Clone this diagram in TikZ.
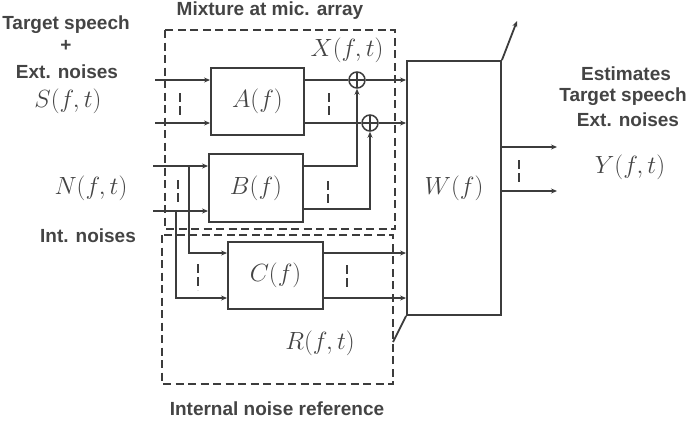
\documentclass[tikz,border=0pt]{standalone}
\usepackage{fontspec}
\setmainfont{Liberation Sans}
\usetikzlibrary{arrows.meta}
\definecolor{lc}{HTML}{3C3C3C}
\definecolor{tc}{HTML}{444444}
\begin{document}
\begin{tikzpicture}[x=1pt,y=-1pt,
  line/.style={draw=lc, line width=1.8pt},
  arr/.style={line, -{Stealth[length=6pt,width=5pt]}},
  blk/.style={draw=lc, line width=1.9pt, rectangle, inner sep=0pt, text=tc, font=\fontsize{29}{32}\selectfont},
  dbox/.style={draw=lc, line width=1.7pt, dash pattern=on 8pt off 4.5pt},
  dots/.style={draw=lc, line width=1.9pt, dash pattern=on 9pt off 4pt},
  lab/.style={text=tc, inner sep=0pt, font=\fontsize{19}{22}\selectfont\bfseries},
  mth/.style={text=tc, inner sep=0pt, font=\fontsize{29}{32}\selectfont},
  sumn/.style={draw=lc, line width=1.5pt, circle, minimum size=16pt, inner sep=0pt,
    path picture={\draw[lc, line width=1.3pt] (path picture bounding box.north) -- (path picture bounding box.south)
      (path picture bounding box.west) -- (path picture bounding box.east);}},
]
\useasboundingbox (0,0) rectangle (687,424);

% dashed group boxes
\draw[dbox] (165,30) rectangle (395,229);
\draw[dbox] (162,235) rectangle (393,384);

% blocks
\node[blk, minimum width=93pt, minimum height=67pt] (A) at (257.5,101.5) {$A(f)$};
\node[blk, minimum width=94pt, minimum height=68pt] (B) at (256,188) {$B(f)$};
\node[blk, minimum width=95pt, minimum height=67pt] (C) at (275.5,275.5) {$C(f)$};
\node[blk, minimum width=94pt, minimum height=254pt] (W) at (454,188) {$W(f)$};

% summing junctions
\node[sumn] (s1) at (357,80) {};
\node[sumn] (s2) at (370,123) {};

% input coordinates
\coordinate (ain1) at (155,80);
\coordinate (ain2) at (155,123);
\coordinate (bin1) at (153,166);
\coordinate (bin2) at (153,211);
\coordinate (j1) at (189,166);
\coordinate (j2) at (176,211);
\coordinate (yo1) at (557,147);
\coordinate (yo2) at (557,191);
\coordinate (wtop) at (517,21);
\coordinate (wbot) at (393,342);

% A inputs and outputs
\draw[arr] (ain1) -- (A.west |- ain1);
\draw[arr] (ain2) -- (A.west |- ain2);
\draw[line] (A.east |- s1) -- (s1.west);
\draw[line] (A.east |- s2) -- (s2.west);
\draw[arr] (s1.east) -- (W.west |- s1);
\draw[arr] (s2.east) -- (W.west |- s2);

% B inputs and outputs
\draw[arr] (bin1) -- (B.west |- bin1);
\draw[arr] (bin2) -- (B.west |- bin2);
\draw[arr] (B.east |- bin1) -| (s1.south);
\draw[arr] (B.east |- 0,209) -| (s2.south);

% branches to C
\draw[arr] (j1) |- (C.west |- 0,253);
\draw[arr] (j2) |- (C.west |- 0,298);
\draw[arr] (C.east |- 0,253) -- (W.west |- 0,253);
\draw[arr] (C.east |- 0,298) -- (W.west |- 0,298);

% W outputs
\draw[arr] (W.east |- yo1) -- (yo1);
\draw[arr] (W.east |- yo2) -- (yo2);
\draw[arr] (W.north east) -- (wtop);
\draw[line] (W.south west) -- (wbot);

% ellipsis marks
\draw[dots] (180,93) -- (180,115);
\draw[dots] (329,93) -- (329,115);
\draw[dots] (178,180) -- (178,203);
\draw[dots] (328,181) -- (328,204);
\draw[dots] (198,264) -- (198,290);
\draw[dots] (347,265) -- (347,290);
\draw[dots] (519,160) -- (519,183);

% labels
\node[lab] (t1) at (66,25) {Target speech};
\node[lab] (t2) at (66,46) {+};
\node[lab] (t3) at (67,72) {Ext. noises};
\node[mth] (tS) at (68,101) {$S(f,t)$};
\node[mth] (tN) at (91,188) {$N(f,t)$};
\node[lab] (t4) at (88,236) {Int. noises};
\node[lab] (t5) at (270,11) {Mixture at mic. array};
\node[mth] (tX) at (347,50) {$X(f,t)$};
\node[lab] (t6) at (626,74) {Estimates};
\node[lab] (t7) at (623,97) {Target speech};
\node[lab] (t8) at (628,120) {Ext. noises};
\node[mth] (tY) at (630,167) {$Y(f,t)$};
\node[mth] (tR) at (320,343) {$R(f,t)$};
\node[lab] (t9) at (277,409) {Internal noise reference};
\end{tikzpicture}
\end{document}
